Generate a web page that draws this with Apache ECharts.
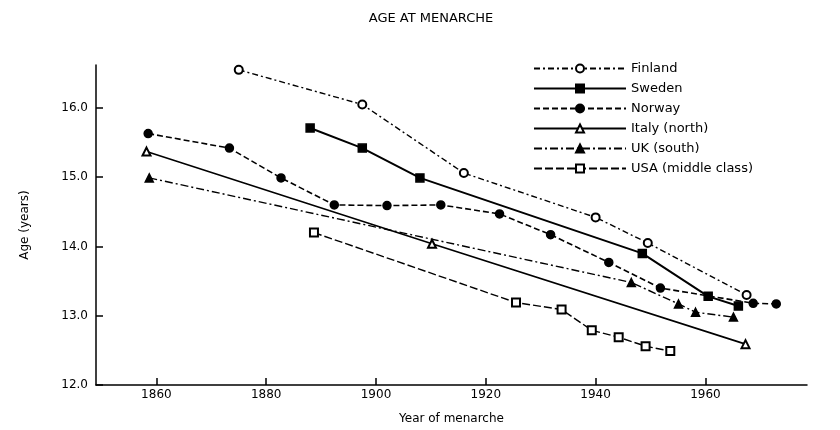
<!DOCTYPE html>
<html>
<head>
<meta charset="utf-8">
<script src="https://cdn.jsdelivr.net/npm/echarts@6/dist/echarts.min.js"></script>
<style>
  html, body { margin: 0; padding: 0; background: #fff; }
  #chart { width: 840px; height: 430px; }
</style>
</head>
<body>
<div id="chart"></div>
<script>
// values (year of menarche, age in years)
const finlandYear = [1875, 1897.5, 1916, 1940, 1949.5, 1967.5];
const finlandAge = [16.55, 16.05, 15.06, 14.42, 14.05, 13.3];

const swedenYear = [1888, 1897.5, 1908, 1948.5, 1960.5, 1966];
const swedenAge = [15.71, 15.42, 14.99, 13.9, 13.28, 13.14];

const norwayYear = [1858.5, 1873.3, 1882.7, 1892.4, 1902, 1911.8, 1922.5, 1931.8, 1942.4, 1951.8, 1968.7, 1972.9];
const norwayAge = [15.63, 15.42, 14.99, 14.6, 14.59, 14.6, 14.47, 14.17, 13.77, 13.4, 13.18, 13.17];

const italyYear = [1858.2, 1910.2, 1967.3];
const italyAge = [15.37, 14.04, 12.59];

const ukYear = [1858.7, 1946.5, 1955.1, 1958.2, 1965.1];
const ukAge = [14.99, 13.48, 13.17, 13.05, 12.98];

const usaYear = [1888.7, 1925.5, 1933.8, 1939.3, 1944.2, 1949.1, 1953.6];
const usaAge = [14.2, 13.19, 13.09, 12.79, 12.69, 12.56, 12.49];

const xTicks = [1860, 1880, 1900, 1920, 1940, 1960];
const yTicks = [12, 13, 14, 15, 16];

const ink = "#000";
const font = '"DejaVu Sans", sans-serif';

function pairs(xs, ys) {
  return xs.map((x, i) => [x, ys[i]]);
}

function lineSeries(name, xs, ys, symbol, dash, width) {
  return {
    type: "line",
    name: name,
    data: pairs(xs, ys),
    symbol: symbol,
    symbolSize: 8,
    showAllSymbol: true,
    animation: false,
    itemStyle: { color: ink, borderColor: ink, borderWidth: 1.5 },
    lineStyle: { color: ink, width: width, type: dash },
  };
}

const chart = echarts.init(document.getElementById("chart"), null, { renderer: "canvas" });

chart.setOption({
  backgroundColor: "#fff",
  textStyle: { fontFamily: font, color: ink },
  title: {
    text: "AGE AT MENARCHE",
    left: 426,
    top: 7,
    textAlign: "center",
    textStyle: { fontFamily: font, fontSize: 13, fontWeight: "normal", color: ink },
  },
  legend: {
    orient: "vertical",
    left: 528,
    top: 57,
    itemWidth: 92,
    itemHeight: 10,
    itemGap: 7,
    textStyle: { fontFamily: font, fontSize: 13, color: ink },
    data: ["Finland", "Sweden", "Norway", "Italy (north)", "UK (south)", "USA (middle class)"],
  },
  grid: { left: 96, right: 33, top: 65, bottom: 44 },
  xAxis: {
    type: "value",
    min: 1849,
    max: 1978.5,
    name: "Year of menarche",
    nameLocation: "middle",
    nameGap: 28,
    nameTextStyle: { fontFamily: font, fontSize: 12, color: ink },
    axisLine: { lineStyle: { color: ink, width: 1.5 } },
    axisTick: { show: true, inside: true, length: 7, customValues: xTicks, lineStyle: { color: ink, width: 1.5 } },
    axisLabel: {
      customValues: xTicks,
      color: ink,
      fontFamily: font,
      fontSize: 12,
      margin: 4,
      formatter: (v) => String(v),
    },
    splitLine: { show: false },
  },
  yAxis: {
    type: "value",
    min: yTicks[0],
    max: 16.62,
    name: "Age (years)",
    nameLocation: "middle",
    nameGap: 65,
    nameRotate: 90,
    nameTextStyle: { fontFamily: font, fontSize: 12, color: ink },
    axisLine: { show: true, lineStyle: { color: ink, width: 1.5 } },
    axisTick: { show: true, inside: true, length: 7, customValues: yTicks, lineStyle: { color: ink, width: 1.5 } },
    axisLabel: {
      customValues: yTicks,
      color: ink,
      fontFamily: font,
      fontSize: 12,
      margin: 8,
      formatter: (v) => v.toFixed(1),
    },
    splitLine: { show: false },
  },
  series: [
    lineSeries("Finland", finlandYear, finlandAge, "emptyCircle", [6, 3, 2, 3], 1.4),
    lineSeries("Sweden", swedenYear, swedenAge, "rect", "solid", 2),
    lineSeries("Norway", norwayYear, norwayAge, "circle", [6, 3], 1.6),
    lineSeries("Italy (north)", italyYear, italyAge, "emptyTriangle", "solid", 1.6),
    lineSeries("UK (south)", ukYear, ukAge, "triangle", [8, 3, 2, 3], 1.4),
    lineSeries("USA (middle class)", usaYear, usaAge, "emptyRect", [8, 3], 1.4),
  ],
});
</script>
</body>
</html>
